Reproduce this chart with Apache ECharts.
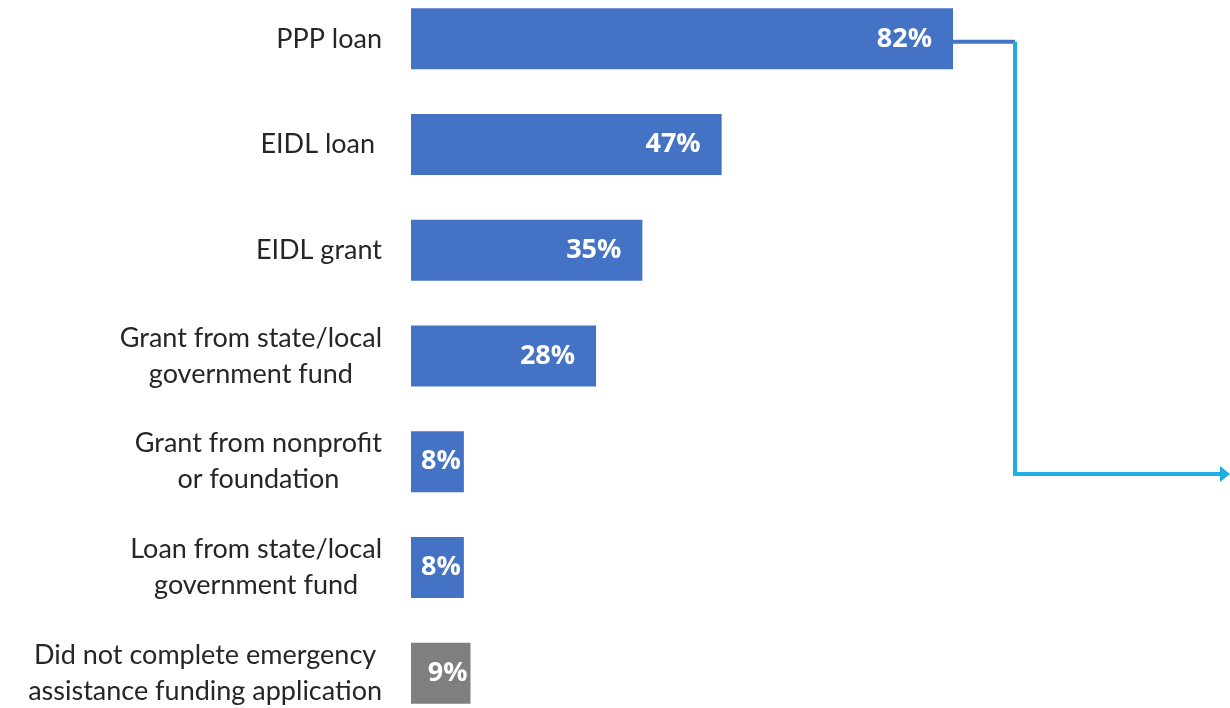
<!DOCTYPE html>
<html>
<head>
<meta charset="utf-8">
<script src="https://cdn.jsdelivr.net/npm/echarts@6/dist/echarts.min.js"></script>
<style>
  html, body { margin: 0; padding: 0; background: #fff; }
  #chart { width: 1230px; height: 708px; }
</style>
</head>
<body>
<div id="chart"></div>
<script>
// categories (top to bottom) and share of respondents, %
var categories = [
  'PPP loan',
  'EIDL loan ',
  'EIDL grant',
  'Grant from state/local\ngovernment fund',
  'Grant from nonprofit\nor foundation',
  'Loan from state/local\ngovernment fund',
  'Did not complete emergency\nassistance funding application'
];
var values = [82, 47, 35, 28, 8, 8, 9];
var isGray = [false, false, false, false, false, false, true];

var chart = echarts.init(document.getElementById('chart'));

var barData = values.map(function (v, i) {
  return {
    value: v,
    itemStyle: { color: isGray[i] ? '#7f7f7f' : '#4472c4' },
    label: { distance: v > 20 ? 21 : 3 }
  };
});

var option = {
  animation: false,
  grid: { left: 411, right: 158, top: -14, height: 740, outerBoundsMode: 'none', containLabel: false },
  xAxis: {
    type: 'value', min: 0, max: 100, show: false
  },
  yAxis: {
    type: 'category',
    data: categories,
    inverse: true,
    axisLine: { show: false },
    axisTick: { show: false },
    axisLabel: {
      margin: 29,
      align: 'right',
      formatter: function (s) {
        return s.split('\n').map(function (l) { return '{a|' + l + '}'; }).join('\n');
      },
      rich: {
        a: {
          align: 'center',
          fontFamily: 'Lato',
          fontSize: 27,
          lineHeight: 36,
          color: '#262626'
        }
      }
    }
  },
  series: [{
    type: 'bar',
    data: barData,
    barWidth: 61,
    label: {
      show: true,
      position: 'insideRight',
      formatter: '{c}%',
      color: '#fff',
      fontFamily: 'Open Sans',
      fontWeight: 'bold',
      fontSize: 27
    }
  }]
};
chart.setOption(option);

// connector from the PPP bar to the right edge
var p = chart.convertToPixel({ gridIndex: 0 }, [values[0], 0]);
var y0 = p[1] + 3;
var xTurn = 1015, yDown = 474, xEnd = 1230;
chart.setOption({
  graphic: [
    { type: 'line', shape: { x1: p[0], y1: y0, x2: xTurn, y2: y0 },
      style: { stroke: '#4472c4', lineWidth: 4 } },
    { type: 'polyline', shape: { points: [[xTurn, y0], [xTurn, yDown], [xEnd - 8, yDown]] },
      style: { stroke: '#1eaee4', lineWidth: 4, fill: null } },
    { type: 'polygon', shape: { points: [[xEnd - 10, yDown - 8], [xEnd, yDown], [xEnd - 10, yDown + 8]] },
      style: { fill: '#1eaee4' } }
  ]
});
</script>
</body>
</html>
